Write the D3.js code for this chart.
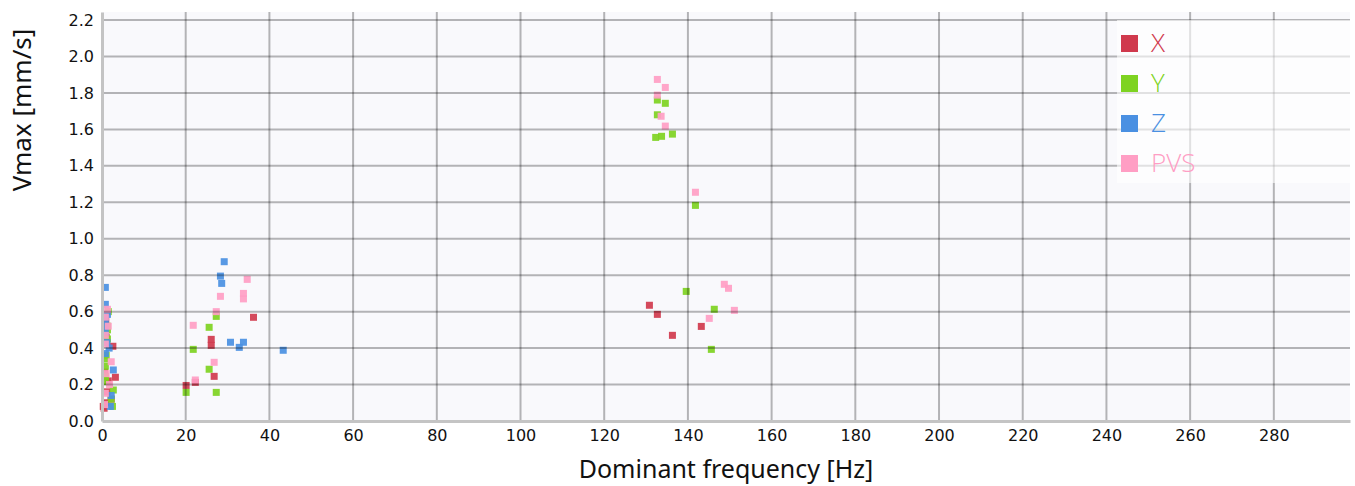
<!DOCTYPE html>
<html>
<head>
<meta charset="utf-8">
<script src="https://cdn.jsdelivr.net/npm/d3@7"></script>
<style>
  html, body { margin: 0; padding: 0; background: #fff; }
  svg { display: block; }
</style>
</head>
<body>
<svg id="chart" width="1355" height="486"></svg>
<script>
// ---- data ----
const seriesNames = ["X", "Y", "Z", "PVS"];
const seriesColors = ["#d0394d", "#7ed321", "#4a90e2", "#ff9ec4"];
const xTicks = [0, 20, 40, 60, 80, 100, 120, 140, 160, 180, 200, 220, 240, 260, 280];
const yTicks = [0.0, 0.2, 0.4, 0.6, 0.8, 1.0, 1.2, 1.4, 1.6, 1.8, 2.0, 2.2];

// [dominant frequency Hz, Vmax mm/s]
const dataX = [
  [0.5, 0.07], [0.3, 0.08], [0.8, 0.10], [1.2, 0.16], [0.6, 0.27], [1.0, 0.46], [2.6, 0.41],
  [3.2, 0.24], [1.5, 0.22], [0.9, 0.55], [2.2, 0.12],
  [20.1, 0.195], [22.3, 0.212], [26.1, 0.448], [26.1, 0.415], [26.8, 0.245], [36.2, 0.569],
  [130.8, 0.635], [132.7, 0.585], [136.3, 0.470], [143.2, 0.519]
];
const dataY = [
  [0.8, 0.30], [1.3, 0.52], [1.3, 0.50], [1.3, 0.45], [0.8, 0.245], [0.8, 0.216], [2.7, 0.17],
  [2.5, 0.08], [1.0, 0.36], [1.5, 0.60], [0.6, 0.34], [2.2, 0.12],
  [20.1, 0.157], [21.8, 0.393], [25.6, 0.514], [25.6, 0.284], [27.3, 0.574], [27.3, 0.157],
  [132.3, 1.556], [133.7, 1.562], [136.3, 1.574], [132.7, 1.68], [132.7, 1.761], [134.6, 1.743],
  [141.8, 1.183], [139.6, 0.711], [146.3, 0.613], [145.6, 0.393]
];
const dataZ = [
  [0.8, 0.733], [0.8, 0.64], [1.3, 0.585], [0.8, 0.554], [0.8, 0.49], [1.7, 0.40], [0.8, 0.37],
  [2.7, 0.28], [2.2, 0.14], [2.0, 0.08], [0.8, 0.52], [1.2, 0.43],
  [29.2, 0.874], [28.3, 0.795], [28.6, 0.755], [30.7, 0.432], [33.8, 0.432], [32.8, 0.404], [43.3, 0.388]
];
const dataPVS = [
  [1.3, 0.613], [0.8, 0.47], [0.8, 0.422], [2.2, 0.325], [0.8, 0.152], [1.0, 0.26], [1.5, 0.52],
  [0.6, 0.09], [1.8, 0.2], [0.8, 0.57],
  [34.7, 0.777], [28.3, 0.684], [33.8, 0.70], [33.8, 0.67], [27.3, 0.60], [21.8, 0.525],
  [26.8, 0.322], [22.3, 0.225],
  [132.7, 1.874], [134.6, 1.83], [132.7, 1.788], [133.6, 1.672], [134.6, 1.618], [141.8, 1.255],
  [148.7, 0.750], [149.7, 0.728], [151.1, 0.607], [145.1, 0.563]
];
const seriesData = [dataX, dataY, dataZ, dataPVS];

// ---- layout ----
const svg = d3.select("#chart");
const L = 102, R = 1350, T = 12, B = 421;
const x = d3.scaleLinear().domain([0, 298.2]).range([L, R]);
const y = d3.scaleLinear().domain([0, 2.244]).range([B, T]);

// background
svg.append("rect").attr("x", L).attr("y", T).attr("width", R - L).attr("height", B - T)
  .attr("fill", "#f9f9fc");

// points
const marker = 7;
seriesData.forEach((data, i) => {
  svg.append("g").selectAll("rect").data(data).join("rect")
    .attr("x", d => x(d[0]) - marker / 2)
    .attr("y", d => y(d[1]) - marker / 2)
    .attr("width", marker).attr("height", marker)
    .attr("fill", seriesColors[i])
    .attr("fill-opacity", 0.92);
});

// grid (drawn on top, semi-transparent)
const grid = svg.append("g");
grid.selectAll("line.v").data(xTicks.filter(t => t > 0)).join("line")
  .attr("x1", d => x(d)).attr("x2", d => x(d)).attr("y1", T).attr("y2", B)
  .attr("stroke", "rgba(0,0,0,0.28)").attr("stroke-width", 2);
grid.selectAll("line.h").data(yTicks.filter(t => t > 0)).join("line")
  .attr("x1", L).attr("x2", R).attr("y1", d => y(d)).attr("y2", d => y(d))
  .attr("stroke", "rgba(0,0,0,0.28)").attr("stroke-width", 2);

// axes
const xAxis = d3.axisBottom(x).tickValues(xTicks).tickFormat(d3.format("d")).tickSize(0).tickPadding(9);
const yAxis = d3.axisLeft(y).tickValues(yTicks).tickFormat(d3.format(".1f")).tickSize(0).tickPadding(8);
const gx = svg.append("g").attr("transform", `translate(0,${B})`).call(xAxis);
const gy = svg.append("g").attr("transform", `translate(${L},0)`).call(yAxis);
[gx, gy].forEach(g => {
  g.select(".domain").attr("stroke", "#c4c4c4").attr("stroke-width", 3);
  g.selectAll("text").attr("font-family", "DejaVu Sans").attr("font-size", 16).attr("fill", "#111");
});

// axis titles
svg.append("text").attr("x", (L + R) / 2).attr("y", 478).attr("text-anchor", "middle")
  .attr("font-family", "Noto Sans").attr("font-size", 25).attr("fill", "#111")
  .text("Dominant frequency [Hz]");
svg.append("text").attr("transform", "translate(31,110) rotate(-90)").attr("text-anchor", "middle")
  .attr("font-family", "Noto Sans").attr("font-size", 26).attr("fill", "#111")
  .text("Vmax [mm/s]");

// legend
const lg = svg.append("g");
lg.append("rect").attr("x", 1117).attr("y", 20).attr("width", 235).attr("height", 163)
  .attr("fill", "#fff").attr("fill-opacity", 0.6);
seriesNames.forEach((name, i) => {
  const yy = 35 + i * 40;
  lg.append("rect").attr("x", 1121).attr("y", yy).attr("width", 17).attr("height", 17)
    .attr("fill", seriesColors[i]);
  lg.append("text").attr("x", 1151).attr("y", yy + 16.5)
    .attr("font-family", "Open Sans").attr("font-weight", 300).attr("font-size", 26)
    .attr("fill", seriesColors[i]).text(name);
});
</script>
</body>
</html>
